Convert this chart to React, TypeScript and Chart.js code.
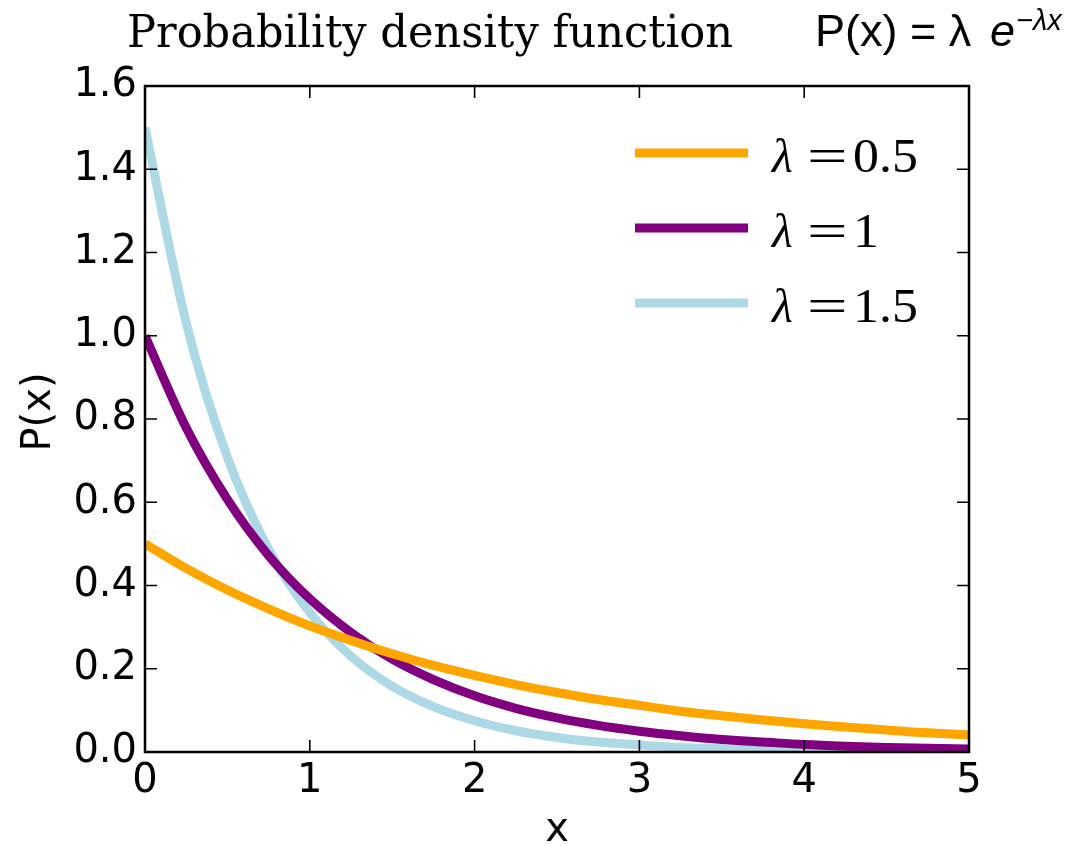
import React, { useEffect, useRef } from "react";
import { Chart, registerables } from "chart.js";

Chart.register(...registerables);

const xValues = [0, 0.25, 0.5, 0.75, 1, 1.25, 1.5, 1.75, 2, 2.25, 2.5, 2.75, 3, 3.25, 3.5, 3.75, 4, 4.25, 4.5, 4.75, 5];
const lambda05 = [0.5, 0.441, 0.389, 0.344, 0.303, 0.268, 0.236, 0.208, 0.184, 0.162, 0.143, 0.126, 0.112, 0.098, 0.087, 0.077, 0.068, 0.06, 0.053, 0.046, 0.041];
const lambda1 = [1.0, 0.779, 0.607, 0.472, 0.368, 0.287, 0.223, 0.174, 0.135, 0.105, 0.082, 0.064, 0.05, 0.039, 0.03, 0.024, 0.018, 0.014, 0.011, 0.009, 0.007];
const lambda15 = [1.5, 1.031, 0.708, 0.487, 0.335, 0.23, 0.158, 0.109, 0.075, 0.051, 0.035, 0.024, 0.017, 0.011, 0.008, 0.005, 0.004, 0.003, 0.002, 0.001, 0.001];
const seriesLabels = ["0.5", "1", "1.5"];
const seriesColors = ["#FFA500", "#800080", "#ADD8E6"];
const xTicks = [0, 1, 2, 3, 4, 5];
const yTicks = [0, 0.2, 0.4, 0.6, 0.8, 1.0, 1.2, 1.4, 1.6];
const titleText = "Probability density function";
const xAxisLabel = "x";
const yAxisLabel = "P(x)";

const W = 1078;
const H = 846;

const decorPlugin = {
  id: "decor",
  afterDatasetsDraw(chart: any) {
    const ctx = chart.ctx as CanvasRenderingContext2D;
    const a = chart.chartArea;
    const xs = chart.scales.x;
    const ys = chart.scales.y;
    ctx.save();
    // frame
    ctx.strokeStyle = "#000";
    ctx.lineWidth = 2.5;
    ctx.strokeRect(a.left, a.top, a.right - a.left, a.bottom - a.top);
    // inside ticks
    ctx.lineWidth = 1.6;
    const tl = 12;
    ctx.beginPath();
    for (const v of xTicks) {
      const px = xs.getPixelForValue(v);
      ctx.moveTo(px, a.bottom);
      ctx.lineTo(px, a.bottom - tl);
      ctx.moveTo(px, a.top);
      ctx.lineTo(px, a.top + tl);
    }
    for (const v of yTicks) {
      const py = ys.getPixelForValue(v);
      ctx.moveTo(a.left, py);
      ctx.lineTo(a.left + tl, py);
      ctx.moveTo(a.right, py);
      ctx.lineTo(a.right - tl, py);
    }
    ctx.stroke();

    // legend
    const legY = [153, 228, 303];
    chart.data.datasets.forEach((ds: any, i: number) => {
      const y = legY[i];
      ctx.strokeStyle = ds.borderColor;
      ctx.lineWidth = 9;
      ctx.lineCap = "butt";
      ctx.beginPath();
      ctx.moveTo(635, y);
      ctx.lineTo(748, y);
      ctx.stroke();
      ctx.fillStyle = "#000";
      ctx.textBaseline = "alphabetic";
      ctx.textAlign = "left";
      const base = y + 19;
      ctx.font = "italic 48px 'Liberation Serif'";
      ctx.fillText("λ", 772, base);
      ctx.font = "48px 'Liberation Serif'";
      ctx.save();
      ctx.translate(807, base);
      ctx.scale(1.5, 1);
      ctx.fillText("=", 0, 0);
      ctx.restore();
      ctx.save();
      ctx.translate(853, base);
      ctx.scale(1.08, 1);
      ctx.fillText(seriesLabels[i], 0, 0);
      ctx.restore();
    });

    // title (condensed slab serif)
    ctx.fillStyle = "#000";
    ctx.font = "44px 'DejaVu Serif'";
    ctx.textBaseline = "alphabetic";
    ctx.textAlign = "left";
    const tw = ctx.measureText(titleText).width;
    const target = 606;
    ctx.save();
    ctx.translate(127, 47);
    ctx.scale(target / tw, 1);
    ctx.fillText(titleText, 0, 0);
    ctx.restore();

    // formula
    ctx.font = "45px 'Liberation Sans'";
    ctx.fillText("P(x) = λ", 815, 46);
    ctx.font = "italic 45px 'Liberation Sans'";
    ctx.fillText("e", 990, 46);
    ctx.font = "italic 29px 'Liberation Sans'";
    ctx.fillText("−λx", 1016, 30);

    // axis labels
    ctx.font = "40px 'DejaVu Sans'";
    ctx.textAlign = "center";
    ctx.fillText(xAxisLabel, (a.left + a.right) / 2, 841);
    ctx.save();
    ctx.translate(50, 412);
    ctx.rotate(-Math.PI / 2);
    ctx.fillText(yAxisLabel, 0, 0);
    ctx.restore();
    ctx.restore();
  },
};

export default function App() {
  const ref = useRef<HTMLCanvasElement | null>(null);
  useEffect(() => {
    if (!ref.current) return;
    const mk = (vals: number[]) => xValues.map((x, i) => ({ x, y: vals[i] }));
    const chart = new Chart(ref.current, {
      type: "line",
      data: {
        datasets: [
          { label: "λ=0.5", data: mk(lambda05), borderColor: seriesColors[0], backgroundColor: seriesColors[0] },
          { label: "λ=1", data: mk(lambda1), borderColor: seriesColors[1], backgroundColor: seriesColors[1] },
          { label: "λ=1.5", data: mk(lambda15), borderColor: seriesColors[2], backgroundColor: seriesColors[2] },
        ].map((d) => ({
          ...d,
          borderWidth: 9,
          pointRadius: 0,
          cubicInterpolationMode: "monotone" as const,
          fill: false,
          clip: 0,
        })),
      },
      options: {
        responsive: false,
        animation: false,
        events: [],
        layout: { padding: { left: 0, top: 86, right: 109, bottom: 0 } },
        plugins: { legend: { display: false }, tooltip: { enabled: false }, title: { display: false } },
        scales: {
          x: {
            type: "linear",
            min: 0,
            max: 5,
            border: { display: false },
            grid: { display: false, drawTicks: false },
            afterFit: (s: any) => {
              s.height = H - 752;
            },
            afterBuildTicks: (s: any) => {
              s.ticks = xTicks.map((v) => ({ value: v }));
            },
            ticks: {
              color: "#000",
              padding: 6,
              font: { family: "'DejaVu Sans'", size: 40 },
              callback: (v: any) => String(v),
            },
          },
          y: {
            type: "linear",
            min: 0,
            max: 1.6,
            border: { display: false },
            grid: { display: false, drawTicks: false },
            afterFit: (s: any) => {
              s.width = 145;
            },
            afterBuildTicks: (s: any) => {
              s.ticks = yTicks.map((v) => ({ value: v }));
            },
            ticks: {
              color: "#000",
              padding: 8,
              font: { family: "'DejaVu Sans'", size: 40 },
              callback: (v: any) => Number(v).toFixed(1),
            },
          },
        },
      },
      plugins: [decorPlugin],
    });
    return () => chart.destroy();
  }, []);
  return (
    <div style={{ position: "absolute", left: 0, top: 0, width: W, height: H, background: "#fff" }}>
      <canvas ref={ref} width={W} height={H} style={{ width: W, height: H, display: "block" }} />
    </div>
  );
}
